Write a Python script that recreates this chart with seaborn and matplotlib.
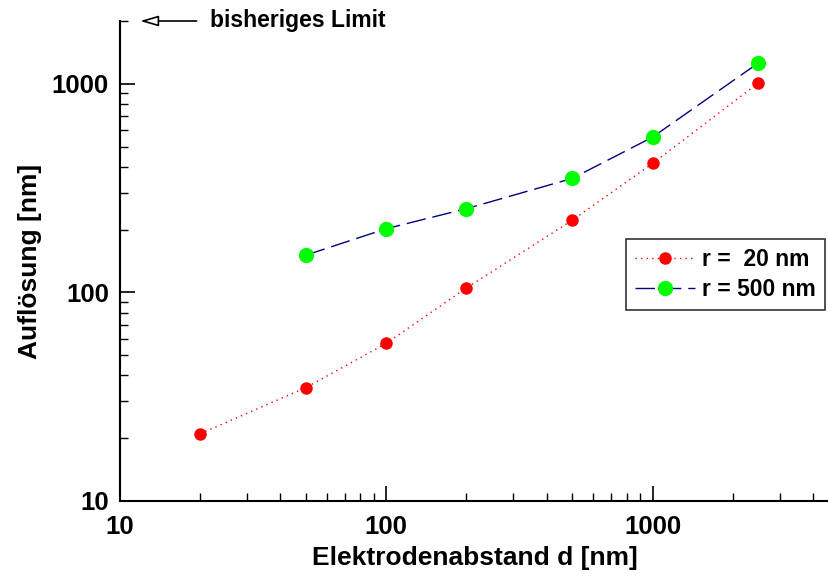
import matplotlib
matplotlib.use("Agg")
import matplotlib.pyplot as plt
import seaborn as sns
import pandas as pd
from matplotlib.ticker import LogLocator, NullFormatter, FixedLocator, FixedFormatter

# Data
d_red = [20, 50, 100, 200, 500, 1000, 2500]
res_red = [21, 35, 57, 105, 222, 415, 1010]
d_green = [50, 100, 200, 500, 1000, 2500]
res_green = [151, 202, 252, 352, 555, 1260]
label_red = "r =  20 nm"
label_green = "r = 500 nm"
xticks = [10, 100, 1000]
yticks = [10, 100, 1000]

sns.set_style("ticks")
plt.rcParams['font.family'] = ['Liberation Sans', 'DejaVu Sans']
plt.rcParams['font.weight'] = 'bold'
plt.rcParams['text.color'] = 'black'
plt.rcParams['axes.labelcolor'] = 'black'
plt.rcParams['xtick.color'] = 'black'
plt.rcParams['ytick.color'] = 'black'
plt.rcParams['axes.edgecolor'] = 'black'

fig = plt.figure(figsize=(8.29, 5.77), dpi=100)
ax = fig.add_axes([120/829, (577-501)/577, 1 - 120/829, (501-21)/577])

df_r = pd.DataFrame({"d": d_red, "r": res_red})
df_g = pd.DataFrame({"d": d_green, "r": res_green})

sns.lineplot(data=df_r, x="d", y="r", ax=ax, color="#ff0000", linestyle=(0, (1, 3)),
             linewidth=1.0, marker="o", markersize=9, markeredgewidth=0,
             markerfacecolor="#ff0000", label=label_red, estimator=None, sort=False,
             clip_on=False, zorder=3)
sns.lineplot(data=df_g, x="d", y="r", ax=ax, color="#000080", linestyle=(0, (14, 5)),
             linewidth=1.0, marker="o", markersize=11, markeredgewidth=0,
             markerfacecolor="#00ff00", label=label_green, estimator=None, sort=False,
             clip_on=False, zorder=3)

ax.set_xscale("log")
ax.set_yscale("log")
ax.set_xlim(10, 4600)
ax.set_ylim(10, 2000)

ax.xaxis.set_major_locator(FixedLocator(xticks))
ax.xaxis.set_major_formatter(FixedFormatter([str(t) for t in xticks]))
ax.yaxis.set_major_locator(FixedLocator(yticks))
ax.yaxis.set_major_formatter(FixedFormatter([str(t) for t in yticks]))
ax.xaxis.set_minor_locator(LogLocator(base=10, subs=range(2, 10)))
ax.yaxis.set_minor_locator(LogLocator(base=10, subs=range(2, 10)))
ax.xaxis.set_minor_formatter(NullFormatter())
ax.yaxis.set_minor_formatter(NullFormatter())

ax.tick_params(which="major", direction="in", length=11, width=1.2, labelsize=18.5, pad=8,
               color="black", labelcolor="black")
ax.tick_params(which="minor", direction="in", length=6, width=1.0, color="black")
ax.tick_params(axis="x", which="major", pad=10)
for lab in ax.get_xticklabels() + ax.get_yticklabels():
    lab.set_fontweight("bold")

ax.spines["top"].set_visible(False)
ax.spines["right"].set_visible(False)
ax.spines["left"].set_linewidth(1.5)
ax.spines["bottom"].set_linewidth(1.5)

ax.set_xlabel("Elektrodenabstand d [nm]", fontsize=19, fontweight="bold", labelpad=5, color="black")
ax.set_ylabel("Auflösung [nm]", fontsize=19, fontweight="bold", labelpad=7, color="black")

ax.annotate("", xy=(11.9, 2000), xytext=(19.4, 2000), xycoords="data",
            arrowprops=dict(arrowstyle="-|>,head_length=1.1,head_width=0.32",
                            edgecolor="black", facecolor="white", lw=1.2,
                            mutation_scale=10, shrinkA=0, shrinkB=0),
            annotation_clip=False)
ax.text(21.8, 2000, "bisheriges Limit", fontsize=16.5, fontweight="bold",
        va="center", ha="left", clip_on=False, color="black")

leg = ax.legend(loc="upper left", bbox_to_anchor=((626-120)/709, (501-239)/480),
                frameon=True, fancybox=False, edgecolor="black", fontsize=16.5,
                handlelength=2.6, borderpad=0.4, labelspacing=0.3, handletextpad=0.3,
                borderaxespad=0)
leg.get_frame().set_linewidth(1.2)
for t in leg.get_texts():
    t.set_fontweight("bold")
    t.set_color("black")

fig.savefig("out.png", dpi=100)
